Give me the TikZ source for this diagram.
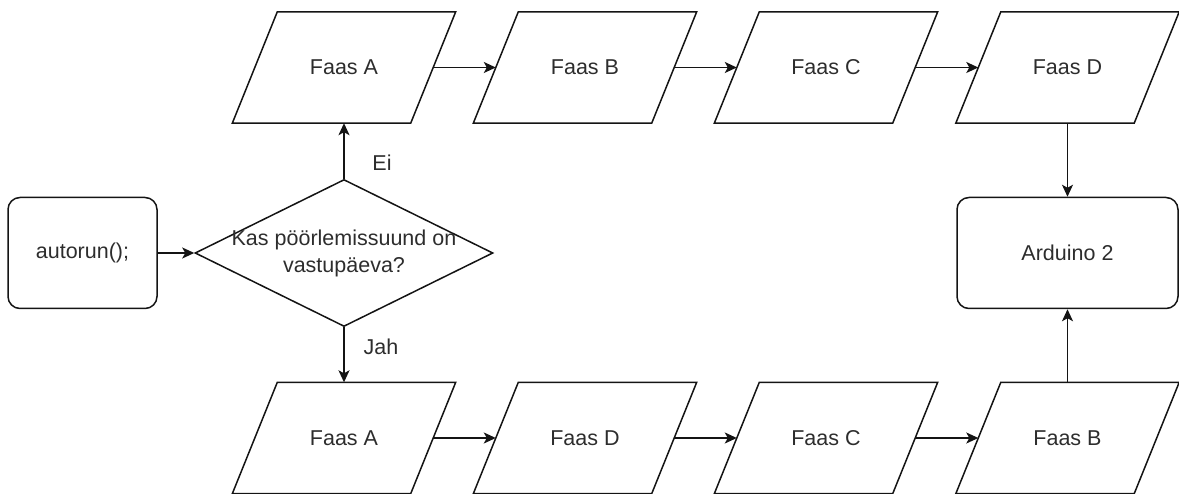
\documentclass[tikz,border=0pt]{standalone}
\usepackage{fontspec}
\setmainfont{Liberation Sans}
\usetikzlibrary{arrows.meta,shapes.geometric}
\definecolor{ink}{RGB}{20,20,20}
\definecolor{txt}{RGB}{45,45,45}
\tikzset{
  base/.style={line width=1.5pt, draw=ink},
  lbl/.style={text=txt, font=\fontsize{21.5}{27}\selectfont},
  io/.style={rectangle, lbl, minimum width=178pt, minimum height=111pt, inner sep=0pt},
  term/.style={rectangle, base, lbl, rounded corners=12pt, minimum height=111pt, inner sep=0pt},
  arr/.style={base, -{Stealth[length=12pt, width=11pt, inset=3pt]}},
}
\begin{document}
\begin{tikzpicture}[x=1pt, y=-1pt]
  \useasboundingbox (0,0) rectangle (1179,494);

  % start and end
  \node[term, minimum width=149pt] (auto) at (82.5,253) {autorun();};
  \node[term, minimum width=221pt] (ard) at (1067.5,253) {Arduino 2};

  % decision
  \node[diamond, base, minimum width=298pt, minimum height=147pt, inner sep=0pt,
        label={[lbl, align=center]center:Kas pöörlemissuund on\\vastupäeva?}] (q) at (344,253) {};

  % clockwise sequence
  \node[io] (ta) at (344,67.5) {Faas A};
  \node[io] (tb) at (585,67.5) {Faas B};
  \node[io] (tc) at (826,67.5) {Faas C};
  \node[io] (td) at (1067.5,67.5) {Faas D};

  % counter-clockwise sequence
  \node[io] (ba) at (344,438) {Faas A};
  \node[io] (bd) at (585,438) {Faas D};
  \node[io] (bc) at (826,438) {Faas C};
  \node[io] (bb) at (1067.5,438) {Faas B};

  % parallelogram outlines
  \foreach \n in {ta,tb,tc,td,ba,bd,bc,bb}
    \draw[base, line join=miter]
      ([xshift=-22.5pt]\n.south west) -- ([xshift=22.5pt]\n.north west)
      -- ([xshift=22.5pt]\n.north east) -- ([xshift=-22.5pt]\n.south east) -- cycle;

  % connectors
  \draw[arr] (auto.east) -- (q.west);
  \draw[arr] (q.north) -- (ta.south);
  \draw[arr] (q.south) -- (ba.north);
  \draw[arr] (ta.east) -- (tb.west);
  \draw[arr] (tb.east) -- (tc.west);
  \draw[arr] (tc.east) -- (td.west);
  \draw[arr] (ba.east) -- (bd.west);
  \draw[arr] (bd.east) -- (bc.west);
  \draw[arr] (bc.east) -- (bb.west);
  \draw[arr] (td.south) -- (ard.north);
  \draw[arr] (bb.north) -- (ard.south);

  % branch labels
  \node[lbl] (ei) at (382,163) {Ei};
  \node[lbl] (jah) at (381,347) {Jah};
\end{tikzpicture}
\end{document}
